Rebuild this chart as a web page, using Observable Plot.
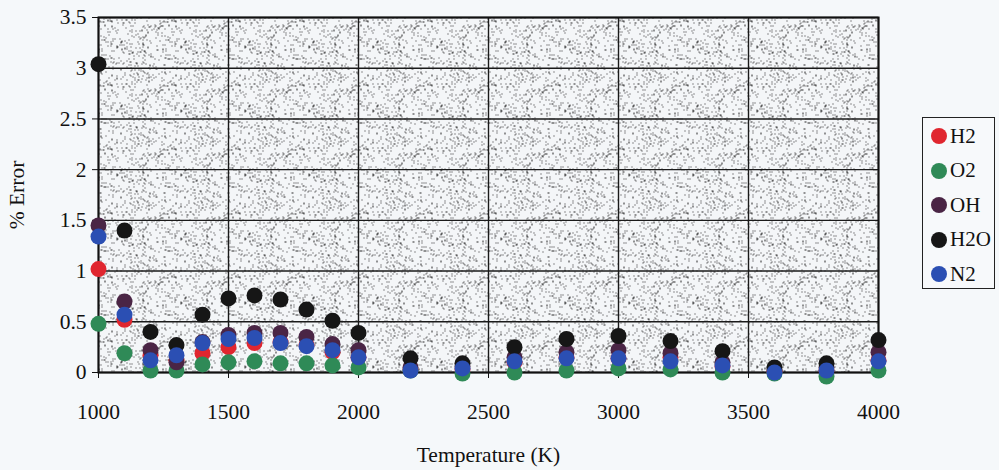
<!DOCTYPE html>
<html>
<head>
<meta charset="utf-8">
<script src="https://cdn.jsdelivr.net/npm/d3@7"></script>
<script src="https://cdn.jsdelivr.net/npm/@observablehq/plot@0.6"></script>
<style>
  html, body { margin: 0; padding: 0; background: #f5f8fa; }
  #wrap { position: relative; width: 999px; height: 470px; overflow: hidden; }
  #legend { position: absolute; left: 922px; top: 117px; width: 73px; height: 172px; border: 1.5px solid #222; box-sizing: border-box; background: #f7f9fb; }
  .item { position: absolute; left: 8px; height: 20px; display: flex; align-items: center; font-size: 21px; color: #111; }
  .sw { width: 16px; height: 16px; border-radius: 50%; margin-right: 3px; }
</style>
</head>
<body>
<div id="wrap"><div id="legend"></div></div>
<script>
const temps = [1000,1100,1200,1300,1400,1500,1600,1700,1800,1900,2000,2200,2400,2600,2800,3000,3200,3400,3600,3800,4000];
const H2  = [1.02,0.52,0.17,0.12,0.19,0.25,0.29,0.30,0.27,0.20,0.15,0.03,0.03,0.10,0.15,0.14,0.15,0.06,0.01,0.02,0.12];
const O2  = [0.48,0.19,0.02,0.02,0.08,0.10,0.11,0.09,0.09,0.07,0.05,0.02,-0.01,0.00,0.02,0.04,0.03,0.00,-0.01,-0.04,0.02];
const OH  = [1.45,0.70,0.22,0.10,0.30,0.37,0.39,0.39,0.35,0.28,0.22,0.05,0.06,0.15,0.20,0.22,0.19,0.10,0.02,0.05,0.20];
const H2O = [3.04,1.40,0.40,0.27,0.57,0.73,0.76,0.72,0.62,0.51,0.39,0.14,0.09,0.25,0.33,0.36,0.31,0.21,0.05,0.09,0.32];
const N2  = [1.34,0.57,0.12,0.17,0.29,0.33,0.34,0.29,0.26,0.22,0.15,0.02,0.04,0.11,0.14,0.14,0.11,0.07,0.00,0.02,0.11];
const seriesNames = ["H2","O2","OH","H2O","N2"];
const seriesValues = [H2, O2, OH, H2O, N2];
const colors = ["#e0262f","#2f8a57","#4a2545","#161616","#2b4fb3"];
const xTicks = [1000,1500,2000,2500,3000,3500,4000];
const yTicks = [0,0.5,1,1.5,2,2.5,3,3.5];

// pick an installed serif font
function hasFont(name) {
  const c = document.createElement("canvas").getContext("2d");
  const s = "Temperature (K) 1234567890 Error";
  return ["monospace", "sans-serif"].some(fb => {
    c.font = `40px ${fb}`; const w0 = c.measureText(s).width;
    c.font = `40px "${name}", ${fb}`; const w1 = c.measureText(s).width;
    return Math.abs(w0 - w1) > 0.5;
  });
}
const candidates = ["Liberation Serif", "Times New Roman", "Tinos", "DejaVu Serif", "Noto Serif", "Times"];
const found = candidates.filter(hasFont);
const FONT = found.length ? `"${found[0]}", serif` : "serif";
document.getElementById("wrap").style.fontFamily = FONT;

const rows = [];
seriesNames.forEach((s, i) => temps.forEach((t, j) => rows.push({series: s, T: t, err: seriesValues[i][j]})));

const svg = Plot.plot({
  width: 999, height: 470,
  marginLeft: 98, marginRight: 121, marginTop: 17, marginBottom: 98,
  style: { fontFamily: FONT, fontSize: "21.5px", background: "transparent", color: "#111", overflow: "visible" },
  x: { domain: [1000, 4000], ticks: xTicks, tickFormat: d => String(d), label: "Temperature (K)", labelAnchor: "center", labelArrow: "none", tickSize: 6, tickPadding: 25, labelOffset: 89 },
  y: { domain: [0, 3.5], ticks: yTicks, tickFormat: d => String(d), label: "% Error", labelAnchor: "center", labelArrow: "none", tickSize: 6, tickPadding: 6, labelOffset: 90 },
  color: { domain: seriesNames, range: colors },
  marks: [
    Plot.frame({ fill: "url(#stipple)", stroke: "none" }),
    Plot.gridX(xTicks, { stroke: "#1a1a1a", strokeOpacity: 1, strokeWidth: 1.4 }),
    Plot.gridY(yTicks, { stroke: "#1a1a1a", strokeOpacity: 1, strokeWidth: 1.4 }),
    Plot.frame({ stroke: "#111", strokeWidth: 2 }),
    Plot.dot(rows, { x: "T", y: "err", fill: "series", r: 8, stroke: "none" })
  ]
});
svg.querySelectorAll("text").forEach(t => t.style.fontFamily = FONT);

// stipple pattern for plot background
const ns = "http://www.w3.org/2000/svg";
const defs = document.createElementNS(ns, "defs");
const pat = document.createElementNS(ns, "pattern");
const TILE = 64;
pat.setAttribute("id", "stipple");
pat.setAttribute("patternUnits", "userSpaceOnUse");
pat.setAttribute("width", TILE); pat.setAttribute("height", TILE);
const bg = document.createElementNS(ns, "rect");
bg.setAttribute("width", TILE); bg.setAttribute("height", TILE); bg.setAttribute("fill", "#f4f6f8");
pat.appendChild(bg);
let a = 987654321;
function mulberry() { a |= 0; a = a + 0x6D2B79F5 | 0; let t = Math.imul(a ^ a >>> 15, 1 | a); t = t + Math.imul(t ^ t >>> 7, 61 | t) ^ t; return ((t ^ t >>> 14) >>> 0) / 4294967296; }
let d = "";
for (let k = 0; k < 330; k++) {
  const px = Math.floor(mulberry() * TILE), py = Math.floor(mulberry() * TILE);
  d += `M${px},${py}h1v1h-1z`;
}
const p = document.createElementNS(ns, "path");
p.setAttribute("d", d); p.setAttribute("fill", "#2a2a2a");
pat.appendChild(p);
defs.appendChild(pat);
svg.insertBefore(defs, svg.firstChild);

document.getElementById("wrap").prepend(svg);

const legend = document.getElementById("legend");
seriesNames.forEach((s, i) => {
  const it = document.createElement("div");
  it.className = "item";
  it.style.top = (8 + i * 34.5) + "px";
  const sw = document.createElement("div");
  sw.className = "sw"; sw.style.background = colors[i];
  const tx = document.createElement("span"); tx.textContent = s;
  it.appendChild(sw); it.appendChild(tx);
  legend.appendChild(it);
});
</script>
</body>
</html>
